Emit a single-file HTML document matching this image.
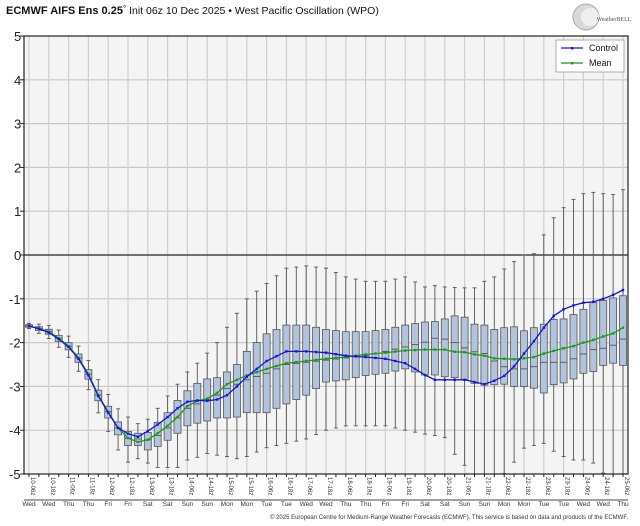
<!DOCTYPE html>
<html><head><meta charset="utf-8">
<style>
html,body{margin:0;padding:0;background:#fff;}
svg{display:block;font-family:"Liberation Sans",sans-serif;}
</style></head>
<body>
<svg id="s" width="640" height="526" viewBox="0 0 640 526" xmlns="http://www.w3.org/2000/svg"></svg>
<script>
const S=document.getElementById('s');
const X0=29,DX=9.9,L=24,R=628,T=36,B=474;
const Y=v=>255-v*43.8;
const X=i=>X0+DX*i;
function interp(keys){const a=[];for(let i=0;i<=60;i++){let k=0;while(k<keys.length-1&&keys[k+1][0]<i)k++;
 const [i0,v0]=keys[k],[i1,v1]=keys[Math.min(k+1,keys.length-1)];
 a.push(i1===i0?v0:v0+(v1-v0)*(i-i0)/(i1-i0));}return a;}
const mean=interp([[0,-1.62],[1,-1.68],[2,-1.75],[3,-1.9],[4,-2.08],[5,-2.35],[6,-2.72],[7,-3.2],[8,-3.58],[9,-3.95],[10,-4.18],[11,-4.27],[12,-4.22],[13,-4.07],[14,-3.9],[15,-3.7],[16,-3.45],[17,-3.33],[18,-3.28],[19,-3.15],[20,-2.95],[22,-2.75],[24,-2.6],[26,-2.47],[28,-2.42],[30,-2.37],[32,-2.33],[34,-2.27],[36,-2.23],[38,-2.18],[40,-2.16],[42,-2.16],[43,-2.21],[44,-2.22],[45,-2.27],[46,-2.3],[47,-2.36],[48,-2.37],[49,-2.38],[50,-2.36],[51,-2.33],[52,-2.25],[53,-2.19],[54,-2.13],[55,-2.08],[56,-2.0],[57,-1.94],[58,-1.86],[59,-1.79],[60,-1.66]]);
const ctrl=interp([[0,-1.62],[1,-1.68],[2,-1.77],[3,-1.92],[4,-2.1],[5,-2.37],[6,-2.75],[7,-3.22],[8,-3.6],[9,-3.95],[10,-4.08],[11,-4.15],[12,-4.02],[13,-3.87],[14,-3.7],[15,-3.5],[16,-3.35],[17,-3.32],[18,-3.33],[19,-3.3],[20,-3.2],[21,-3.0],[22,-2.78],[24,-2.42],[26,-2.2],[28,-2.2],[30,-2.23],[32,-2.3],[34,-2.33],[36,-2.37],[38,-2.47],[39,-2.6],[40,-2.74],[41,-2.85],[44,-2.85],[45,-2.9],[46,-2.95],[47,-2.87],[48,-2.76],[49,-2.54],[50,-2.25],[51,-1.97],[52,-1.66],[53,-1.39],[54,-1.24],[55,-1.15],[56,-1.09],[57,-1.07],[58,-1.0],[59,-0.91],[60,-0.8]]);
const q3=interp([[0,-1.57],[6,-2.62],[9,-3.88],[10,-4.05],[11,-4.07],[12,-4.05],[13,-3.82],[14,-3.6],[15,-3.32],[16,-3.1],[17,-2.93],[18,-2.83],[19,-2.8],[20,-2.67],[21,-2.5],[22,-2.2],[24,-1.8],[26,-1.6],[28,-1.6],[30,-1.7],[32,-1.75],[34,-1.75],[36,-1.7],[38,-1.6],[40,-1.53],[41,-1.52],[42,-1.46],[43,-1.39],[44,-1.42],[45,-1.58],[46,-1.6],[47,-1.7],[48,-1.66],[49,-1.64],[50,-1.73],[51,-1.66],[52,-1.58],[53,-1.47],[54,-1.46],[55,-1.36],[56,-1.24],[57,-1.08],[58,-1.04],[59,-0.98],[60,-0.93]]);
const q1=interp([[0,-1.66],[6,-2.82],[9,-4.02],[10,-4.25],[11,-4.35],[12,-4.45],[13,-4.37],[14,-4.23],[15,-4.07],[16,-3.9],[17,-3.84],[18,-3.79],[19,-3.72],[20,-3.72],[21,-3.7],[22,-3.6],[24,-3.6],[26,-3.4],[28,-3.2],[30,-2.9],[32,-2.85],[34,-2.75],[36,-2.7],[38,-2.6],[40,-2.74],[41,-2.74],[42,-2.78],[43,-2.8],[44,-2.84],[45,-2.93],[46,-2.97],[47,-2.96],[48,-2.95],[49,-3.0],[50,-3.0],[51,-3.04],[52,-3.15],[53,-2.96],[54,-2.92],[55,-2.83],[56,-2.7],[57,-2.66],[58,-2.52],[59,-2.47],[60,-2.52]]);
const med=interp([[0,-1.61],[10,-4.15],[11,-4.2],[12,-4.22],[13,-4.12],[14,-3.95],[15,-3.72],[16,-3.5],[17,-3.4],[18,-3.3],[19,-3.2],[20,-3.05],[22,-2.85],[24,-2.7],[26,-2.5],[28,-2.45],[30,-2.4],[32,-2.35],[34,-2.3],[36,-2.2],[38,-2.1],[40,-1.99],[41,-1.9],[42,-1.92],[43,-2.0],[44,-2.12],[45,-2.21],[46,-2.25],[47,-2.42],[48,-2.55],[49,-2.6],[50,-2.6],[51,-2.55],[52,-2.45],[54,-2.45],[55,-2.37],[56,-2.26],[57,-2.16],[58,-2.13],[59,-2.06],[60,-1.92]]);
const wmax=interp([[0,-1.52],[6,-2.5],[8,-3.35],[9,-3.7],[10,-3.78],[11,-3.85],[12,-3.75],[13,-3.5],[14,-3.22],[15,-2.95],[16,-2.67],[17,-2.47],[18,-2.24],[19,-2.0],[20,-1.65],[21,-1.33],[22,-1.0],[24,-0.65],[26,-0.3],[28,-0.25],[30,-0.3],[32,-0.5],[34,-0.6],[36,-0.6],[38,-0.5],[40,-0.73],[41,-0.7],[42,-0.73],[44,-0.75],[45,-0.75],[46,-0.6],[47,-0.5],[48,-0.32],[49,-0.15],[50,0],[51,0.03],[52,0.46],[53,0.85],[54,1.08],[55,1.27],[56,1.4],[57,1.43],[58,1.4],[59,1.38],[60,1.49]]);
const wmin=interp([[0,-1.7],[6,-2.95],[8,-3.75],[9,-4.1],[10,-4.5],[11,-4.65],[12,-4.75],[13,-4.85],[14,-4.85],[15,-4.85],[16,-4.68],[17,-4.62],[18,-4.53],[19,-4.57],[20,-4.6],[21,-4.65],[22,-4.6],[24,-4.4],[26,-4.3],[28,-4.2],[30,-4.0],[32,-3.9],[36,-3.9],[38,-4.0],[40,-4.09],[41,-4.12],[42,-4.17],[43,-4.55],[44,-4.8],[45,-5],[47,-5],[48,-4.99],[49,-4.73],[50,-4.41],[51,-4.35],[52,-4.3],[53,-4.48],[54,-4.6],[55,-4.68],[56,-4.68],[57,-4.75],[58,-4.98],[59,-5],[60,-5]]);
for(let i=0;i<=10;i++){med[i]=mean[i];q3[i]=mean[i]+0.03+0.012*i;q1[i]=mean[i]-0.03-0.014*i;
 wmax[i]=q3[i]+0.03+0.03*i;wmin[i]=q1[i]-0.03+-0.035*i;}
let h='';
h+=`<rect x="${L}" y="${T}" width="${R-L}" height="${B-T}" fill="#f4f4f4"/>`;
for(let v=-4;v<=4;v++){if(v!==0)h+=`<line x1="${L}" x2="${R}" y1="${Y(v)}" y2="${Y(v)}" stroke="#c8c8c8" stroke-width="1.2"/>`;}
for(let i=0;i<=60;i+=2)h+=`<line x1="${X(i)}" x2="${X(i)}" y1="${T}" y2="${B}" stroke="#cfcfcf" stroke-width="1.2"/>`;
h+=`<line x1="${L}" x2="${R}" y1="${Y(0)}" y2="${Y(0)}" stroke="#222" stroke-width="1.2"/>`;
for(let i=0;i<=60;i++){const x=X(i);
 h+=`<line x1="${x}" x2="${x}" y1="${Y(wmax[i])}" y2="${Y(wmin[i])}" stroke="#555" stroke-width="0.9"/>`;
 h+=`<line x1="${x-2}" x2="${x+2}" y1="${Y(wmax[i])}" y2="${Y(wmax[i])}" stroke="#555" stroke-width="0.9"/>`;
 h+=`<line x1="${x-2}" x2="${x+2}" y1="${Y(wmin[i])}" y2="${Y(wmin[i])}" stroke="#555" stroke-width="0.9"/>`;
 const t=Y(q3[i]),b=Y(q1[i]);
 h+=`<rect x="${x-3.5}" y="${t}" width="7" height="${Math.max(b-t,1)}" fill="#b2c4dc" stroke="#555" stroke-width="0.8"/>`;
 h+=`<line x1="${x-3.5}" x2="${x+3.5}" y1="${Y(med[i])}" y2="${Y(med[i])}" stroke="#555" stroke-width="0.9"/>`;
}
const pl=(a,c)=>{let p=a.map((v,i)=>`${X(i).toFixed(1)},${Y(v).toFixed(1)}`).join(' ');
 let s=`<polyline points="${p}" fill="none" stroke="${c}" stroke-width="1.3"/>`;
 a.forEach((v,i)=>s+=`<rect x="${X(i)-1.2}" y="${Y(v)-1.2}" width="2.4" height="2.4" fill="${c}"/>`);return s;};
h+=pl(mean,'#1a9a1a');h+=pl(ctrl,'#1414e0');
h+=`<rect x="${L}" y="${T}" width="${R-L}" height="${B-T}" fill="none" stroke="#222" stroke-width="1.2"/>`;
for(let v=-5;v<=5;v++){h+=`<line x1="${L-4}" x2="${L}" y1="${Y(v)}" y2="${Y(v)}" stroke="#222"/>`;
 h+=`<text x="${v<0?9:14}" y="${Y(v)+5}" font-size="13" fill="#222">${v}</text>`;}
const days=['Wed','Thu','Fri','Sat','Sun','Mon','Tue','Wed','Thu','Fri','Sat','Sun','Mon','Tue','Wed','Thu'];
for(let i=0;i<=60;i++){h+=`<line x1="${X(i)}" x2="${X(i)}" y1="${B}" y2="${B+3}" stroke="#222"/>`;}
for(let k=0;k<=30;k++){const x=X(2*k);const d=10+Math.floor(k/2);const z=k%2?'18z':'06z';
 h+=`<text transform="translate(${x+2},${477}) rotate(90)" font-size="6" fill="#333">${d}-${z}</text>`;
 h+=`<text x="${x}" y="506" font-size="6.5" fill="#333" text-anchor="middle">${days[Math.floor(k/2)]}</text>`;}
h+=`<line x1="${L}" x2="${R}" y1="500" y2="500" stroke="#444" stroke-width="1"/>`;
h+=`<text x="${R}" y="519" font-size="6" fill="#333" text-anchor="end">© 2025 European Centre for Medium-Range Weather Forecasts (ECMWF). This service is based on data and products of the ECMWF.</text>`;
h+=`<text x="6" y="14" font-size="11" fill="#111"><tspan font-weight="bold">ECMWF AIFS Ens 0.25</tspan><tspan font-size="8" dy="-3">°</tspan><tspan dy="3" font-size="10.5"> Init 06z 10 Dec 2025 • West Pacific Oscillation (WPO)</tspan></text>`;
h+=`<circle cx="586" cy="17" r="13" fill="#d8d8d8" stroke="#aaa"/><circle cx="590" cy="17" r="9" fill="#eee"/><text x="614" y="21" font-size="6" fill="#555" text-anchor="middle" font-family="Liberation Serif">WeatherBELL</text>`;
h+=`<rect x="556" y="40" width="68" height="32" fill="#fff" stroke="#999" stroke-width="0.8"/>`;
h+=`<line x1="561" x2="583" y1="48" y2="48" stroke="#1414e0" stroke-width="1.3"/><rect x="571" y="47" width="2.4" height="2.4" fill="#1414e0"/><text x="589" y="51" font-size="9" fill="#111">Control</text>`;
h+=`<line x1="561" x2="583" y1="63" y2="63" stroke="#1a9a1a" stroke-width="1.3"/><rect x="571" y="62" width="2.4" height="2.4" fill="#1a9a1a"/><text x="589" y="66" font-size="9" fill="#111">Mean</text>`;
S.innerHTML=h;
</script>
</body></html>
